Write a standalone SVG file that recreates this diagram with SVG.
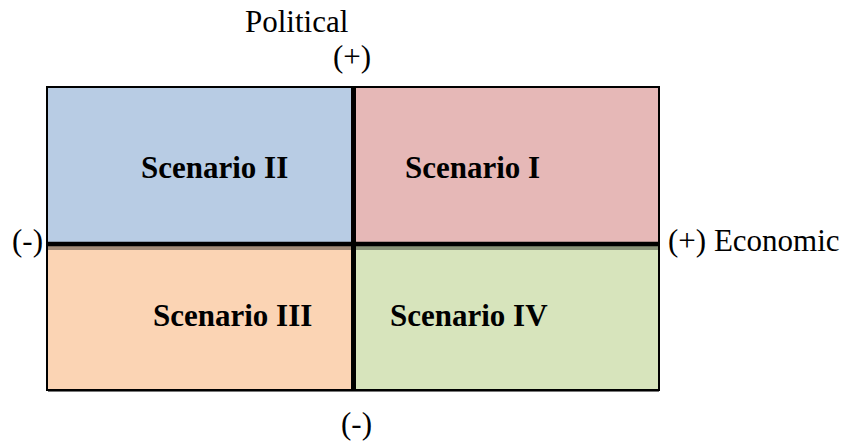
<svg xmlns="http://www.w3.org/2000/svg" width="850" height="444" viewBox="0 0 850 444">
<style>
.lbl{font-family:"Liberation Serif","Times New Roman",serif;font-size:31px;fill:#000}
.sc{font-family:"Liberation Serif","Times New Roman",serif;font-size:31px;font-weight:bold;fill:#000}
</style>
<rect width="850" height="444" fill="#fff"/>
<g id="q2"><rect x="48" y="87" width="306" height="157" fill="#B8CCE4"/><text class="sc" x="141" y="178">Scenario II</text></g>
<g id="q1"><rect x="354" y="87" width="305" height="157" fill="#E6B8B7"/><text class="sc" x="405" y="178">Scenario I</text></g>
<g id="q3"><rect x="48" y="244" width="306" height="146" fill="#FBD4B4"/><text class="sc" x="153" y="326">Scenario III</text></g>
<g id="q4"><rect x="354" y="244" width="305" height="146" fill="#D7E4BC"/><text class="sc" x="390" y="326">Scenario IV</text></g>
<g id="connectors">
<rect x="48" y="246" width="306" height="4" fill="#A38C79"/>
<rect x="354" y="246" width="305" height="4" fill="#8A9479"/>
<rect x="48" y="390" width="611" height="2" fill="#777"/>
<rect x="47" y="87" width="612" height="303" fill="none" stroke="#000" stroke-width="2"/>
<line x1="47" y1="244" x2="659" y2="244" stroke="#000" stroke-width="4.5"/>
<line x1="353.5" y1="86" x2="353.5" y2="391" stroke="#000" stroke-width="5"/>
</g>
<g id="labels">
<text class="lbl" x="245" y="32">Political</text>
<text class="lbl" x="333" y="67">(+)</text>
<text class="lbl" x="12" y="251">(-)</text>
<text class="lbl" x="668" y="251">(+) Economic</text>
<text class="lbl" x="341" y="434">(-)</text>
</g>
</svg>
